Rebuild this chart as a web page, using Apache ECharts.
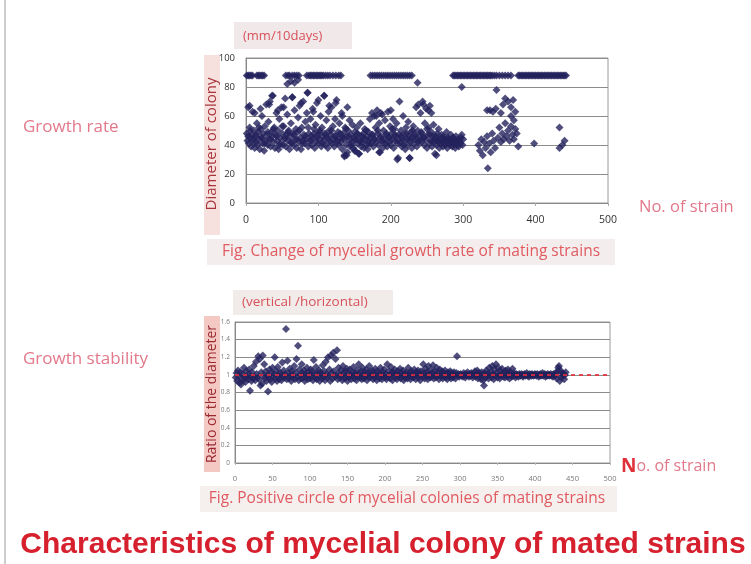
<!DOCTYPE html>
<html>
<head>
<meta charset="utf-8">
<script src="https://cdn.jsdelivr.net/npm/echarts@6/dist/echarts.min.js"></script>
<style>
html,body{margin:0;padding:0;background:#fff;}
#chart{width:751px;height:564px;}
</style>
</head>
<body>
<div id="chart"></div>
<script>
// ---------- DATA ----------
// Growth rate: colony diameter (mm/10days) per strain number
const growthTicksY = [0, 20, 40, 60, 80, 100];
const growthTicksX = [0, 100, 200, 300, 400, 500];
const saturatedValue = 88; // colonies reaching the plate edge
const growthSaturatedStrains = [1,3,5,7,9,15,17,19,21,23,25,
  55,58,60,64,67,70,73,
  84,87,89,91,93,95,97,99,101,103,105,107,110,113,116,120,124,128,131,
  172,175,178,181,184,187,190,193,196,199,202,205,208,211,214,217,220,223,226,229,
  286,288,290,292,294,296,298,300,302,304,306,308,310,312,314,316,318,320,322,324,326,328,330,332,334,336,338,340,343,346,350,354,358,362,366,
  376,378,380,382,384,386,388,390,392,394,396,398,400,402,404,406,408,410,412,414,416,418,420,422,424,426,428,430,432,434,436,438,440,442];
// main value for strains 1..300
const growthMain = [
  48,43,66,41,52,45,39,47,63,44, 50,38,46,42,55,40,49,44,37,51,
  45,60,41,48,36,53,43,68,47,40, 56,44,70,39,49,46,74,42,52,38,
  47,62,43,50,37,58,45,41,66,48, 40,53,44,72,39,47,61,43,50,37,
  46,55,41,73,48,40,64,44,51,38, 49,59,42,67,45,37,52,43,70,47,
  41,56,44,62,76,39,48,43,58,46, 40,65,45,51,38,54,42,69,47,41,
  49,44,60,39,52,46,43,74,48,40, 57,45,38,63,50,42,47,66,41,53,
  44,39,58,46,71,43,49,40,55,45, 42,62,37,48,44,33,52,40,46,35,
  50,43,57,39,47,42,54,38,45,49, 36,44,52,41,47,34,43,55,39,46,
  42,48,38,51,44,40,46,37,49,43, 58,45,41,62,47,39,60,44,52,42,
  64,48,40,55,35,46,43,61,38,50, 44,57,41,47,39,63,45,42,53,40,
  48,44,58,38,51,43,46,55,41,31, 47,70,42,50,39,45,60,43,48,37,
  52,44,40,56,46,31,42,49,38,45, 53,41,47,44,66,39,50,68,43,46,
  62,42,48,70,45,40,55,44,65,38, 47,52,41,67,43,49,39,46,54,42,
  34,45,40,48,43,51,38,44,41,47, 42,39,46,44,40,43,49,38,45,41,
  44,40,47,42,39,45,41,43,38,46, 42,40,44,39,43,41,45,47,40,44
];
// additional points [strain, value]
const growthExtra = [
  [3,46],[6,50],[10,42],[14,47],[18,52],[22,45],[26,41],[30,49],[34,44],[38,51],[42,46],[46,40],[50,53],[54,45],[58,49],
  [62,42],[66,47],[70,44],[74,50],[78,41],[82,46],[86,52],[90,43],[94,48],[98,45],[102,50],[106,41],[110,47],[114,44],
  [118,50],[122,46],[126,42],[130,48],[134,45],[138,51],[142,46],[146,40],[150,44],[154,48],[158,42],[162,45],[166,50],
  [170,41],[174,47],[178,44],[182,50],[186,45],[190,42],[194,48],[198,45],[202,51],[206,47],[210,43],[214,46],[218,40],
  [222,48],[226,44],[230,50],[234,46],[238,42],[242,49],[246,45],[250,51],[254,47],[258,43],[262,46],[266,42],[270,45],
  [274,41],[278,44],[282,42],[286,45],
  [5,67],[12,62],[20,65],[32,68],[36,74],[44,64],[52,66],[64,73],[76,69],[85,76],[93,63],[100,71],[108,74],[115,67],
  [124,69],[133,60],[140,66],[200,64],[186,62],[180,60],[245,68],[252,64],[256,62],
  [136,32],[139,33],[184,35],[209,30],[226,31],[263,33],[150,36],[156,34],
  [57,82],[62,84],[67,83],[72,85],[237,83],[298,80],[346,78],
  [321,40],[323,36],[325,44],[327,33],[329,42],[331,38],[333,46],[334,24],[336,41],[338,35],[340,48],[342,43],[344,38],
  [333,64],[337,64],[341,63],[345,65],[348,45],[350,52],[352,42],[354,48],[356,44],[358,55],[360,46],[362,50],[364,43],
  [366,53],[368,47],[370,44],[372,51],[374,48],[352,62],[355,68],[358,72],[362,70],[366,66],[369,71],[372,63],[376,39],
  [366,60],[370,57],[398,41],[433,52],[433,38],[437,40],[440,43]
];

// Growth stability: ratio of diameter (vertical/horizontal), strains 1..441
const ratioTicksY = [0, 0.2, 0.4, 0.6, 0.8, 1, 1.2, 1.4, 1.6];
const ratioTicksX = [0, 50, 100, 150, 200, 250, 300, 350, 400, 450, 500];
const ratioReference = 1;
const ratioValues = [
  0.97,1.02,0.93,1.05,0.99,0.91,1.03,0.89,0.96,1.01,0.94,1.08,0.98,0.92,1.04,0.97,1.00,0.95,1.06,0.82,
  0.99,0.93,1.03,0.96,1.10,0.98,0.94,1.15,1.01,0.97,1.21,0.95,1.18,0.88,1.03,0.90,1.22,0.99,1.12,0.96,
  1.04,0.93,1.00,0.81,0.97,1.06,0.95,1.02,0.92,1.08,0.98,1.01,1.20,0.96,1.04,0.93,1.09,0.99,0.95,1.03,
  1.00,0.94,1.14,0.98,1.05,0.97,1.01,1.52,0.95,1.16,1.02,0.96,1.07,0.99,0.93,1.04,1.00,0.97,1.10,0.95,
  1.03,1.18,0.98,1.33,0.94,1.06,1.00,0.96,1.12,1.02,0.97,1.05,0.93,1.01,0.98,1.08,0.95,1.03,1.00,0.96,
  1.06,0.99,1.04,0.94,1.17,1.01,0.97,1.09,0.95,1.02,0.99,1.05,0.93,1.03,1.00,0.96,1.11,0.98,1.04,0.94,
  1.15,1.01,0.97,1.20,0.99,1.06,0.93,1.22,1.02,0.96,1.25,1.04,0.98,1.18,1.00,1.28,0.95,1.08,1.01,0.97,
  1.05,0.99,0.94,1.10,1.02,0.96,1.04,0.98,1.07,0.93,1.01,0.97,1.06,1.00,0.95,1.03,0.99,1.09,0.96,1.02,
  1.00,0.94,1.05,0.98,1.12,1.01,0.97,1.04,0.95,1.08,1.00,0.96,1.03,0.99,1.06,0.94,1.02,0.98,1.10,0.97,
  1.03,0.99,1.05,0.95,1.01,0.97,1.07,1.00,0.94,1.04,0.98,1.02,0.96,1.08,1.00,0.95,1.03,0.99,1.06,0.97,
  1.01,0.95,1.12,0.98,1.04,1.00,0.96,1.09,1.02,0.94,1.03,0.99,1.06,0.97,1.01,0.95,1.04,1.00,0.98,1.07,
  0.96,1.02,0.99,1.05,0.94,1.01,0.97,1.03,1.00,0.96,1.08,0.99,1.02,0.95,1.04,0.98,1.01,0.97,1.06,1.00,
  0.95,1.03,0.99,1.05,0.97,1.01,0.94,1.04,1.00,0.98,1.12,1.02,0.96,1.07,0.99,1.03,0.95,1.10,1.01,0.97,
  1.05,0.98,1.02,1.11,0.96,1.04,1.00,0.97,1.08,0.99,1.03,0.95,1.06,1.00,0.98,1.04,0.96,1.02,0.99,1.05,
  0.97,1.01,0.95,1.03,1.00,0.98,1.04,0.96,1.02,0.99,0.97,1.03,1.00,0.96,1.02,1.21,0.99,1.01,0.98,1.00,
  1.01,0.99,1.00,0.98,1.02,1.00,0.97,1.01,0.99,1.03,1.00,0.98,1.01,0.99,1.02,1.00,0.97,1.01,0.99,1.04,
  0.98,1.00,1.05,0.96,1.02,0.99,1.01,0.95,1.03,1.00,0.94,0.88,1.02,0.97,1.05,0.99,1.01,0.96,1.08,1.00,
  1.03,0.97,1.10,1.01,0.95,1.06,0.99,1.12,1.02,0.97,1.08,1.00,0.96,1.04,0.99,1.07,1.01,0.98,1.03,0.97,
  1.05,1.00,0.98,1.06,1.01,0.96,1.03,1.00,0.98,1.07,0.99,1.02,1.00,0.97,1.01,0.99,1.00,0.98,1.01,1.00,
  0.99,1.01,1.00,0.98,1.00,1.01,0.99,1.00,1.02,0.99,1.00,0.98,1.01,1.00,0.99,1.01,1.00,0.99,1.00,1.01,
  1.00,0.99,1.01,1.00,0.98,1.00,1.01,0.99,1.00,1.02,0.99,1.00,1.01,0.98,1.00,0.99,1.01,1.00,0.99,1.00,
  1.01,0.99,1.00,0.98,1.01,1.00,0.99,1.02,0.96,1.04,1.08,1.10,0.93,1.05,0.97,1.02,0.99,1.01,0.95,1.00,1.03
];

// ---------- BUILD ----------
const growthData = []
  .concat(growthSaturatedStrains.map(s => [s, saturatedValue]))
  .concat(growthMain.map((v, i) => [i + 1, v]))
  .concat(growthExtra);
const ratioData = ratioValues.map((v, i) => [i + 1, v]);

const markColor = '#23225c';
const gridColor = '#8c8c8c';
const pink = '#e2788a';
const font = '"Open Sans", "Noto Sans", sans-serif';

const chart = echarts.init(document.getElementById('chart'), null, {renderer: 'canvas'});

chart.setOption({
  animation: false,
  backgroundColor: '#ffffff',
  grid: [
    {left: 246, top: 58, width: 362, height: 145, show: true, borderColor: '#9a9a9a', borderWidth: 1, backgroundColor: '#fff'},
    {left: 235, top: 322, width: 375, height: 141, show: true, borderColor: '#9a9a9a', borderWidth: 1, backgroundColor: '#fff'}
  ],
  xAxis: [
    {gridIndex: 0, type: 'value', min: growthTicksX[0], max: growthTicksX[growthTicksX.length - 1], interval: 100,
     axisLine: {show: true, lineStyle: {color: '#888'}}, axisTick: {show: true, length: 3, lineStyle: {color: '#aaa'}},
     splitLine: {show: false},
     axisLabel: {fontSize: 10.5, color: '#333', margin: 12, fontFamily: font}},
    {gridIndex: 1, type: 'value', min: ratioTicksX[0], max: ratioTicksX[ratioTicksX.length - 1], interval: 50,
     axisLine: {show: true, lineStyle: {color: '#888'}}, axisTick: {show: true, length: 2, lineStyle: {color: '#bbb'}},
     splitLine: {show: false},
     axisLabel: {fontSize: 7.5, color: '#777', margin: 12, fontFamily: font}}
  ],
  yAxis: [
    {gridIndex: 0, type: 'value', min: growthTicksY[0], max: growthTicksY[growthTicksY.length - 1], interval: 20,
     axisLine: {show: true, lineStyle: {color: '#888'}}, axisTick: {show: false},
     splitLine: {show: true, lineStyle: {color: gridColor, width: 1}},
     axisLabel: {fontSize: 9.5, color: '#333', margin: 11, fontFamily: font}},
    {gridIndex: 1, type: 'value', min: ratioTicksY[0], max: ratioTicksY[ratioTicksY.length - 1], interval: 0.2,
     axisLine: {show: true, lineStyle: {color: '#888'}}, axisTick: {show: false},
     splitLine: {show: true, lineStyle: {color: gridColor, width: 1}},
     axisLabel: {fontSize: 6.5, color: '#777', margin: 5, fontFamily: font}}
  ],
  series: [
    {type: 'scatter', xAxisIndex: 0, yAxisIndex: 0, data: growthData, symbol: 'diamond', symbolSize: 8,
     itemStyle: {color: markColor}},
    {type: 'scatter', xAxisIndex: 1, yAxisIndex: 1, data: ratioData, symbol: 'diamond', symbolSize: 8,
     itemStyle: {color: markColor},
     markLine: {silent: true, symbol: 'none', label: {show: false},
       lineStyle: {color: '#e0303a', type: [4, 4], width: 2, opacity: 0.85},
       data: [{yAxis: ratioReference}]}}
  ],
  graphic: [
    {type: 'line', shape: {x1: 5, y1: 0, x2: 5, y2: 564}, style: {stroke: '#bdbdbd', lineWidth: 1.5}},
    // left labels
    {type: 'text', left: 23, top: 119, style: {text: 'Growth rate', fill: pink, font: '17px ' + font}},
    {type: 'text', left: 23, top: 351, style: {text: 'Growth stability', fill: pink, font: '17px ' + font}},
    // unit boxes
    {type: 'rect', shape: {x: 234, y: 22, width: 118, height: 27}, style: {fill: '#f1e9e9'}},
    {type: 'text', x: 243, y: 36, style: {text: '(mm/10days)', fill: '#d8505a', font: '13px ' + font, textAlign: 'left', textVerticalAlign: 'middle'}},
    {type: 'rect', shape: {x: 233, y: 290, width: 160, height: 25}, style: {fill: '#f1ecea'}},
    {type: 'text', x: 242, y: 302, style: {text: '(vertical /horizontal)', fill: '#d8505a', font: '13.5px ' + font, textAlign: 'left', textVerticalAlign: 'middle'}},
    // y axis name boxes
    {type: 'rect', shape: {x: 204, y: 55, width: 16, height: 180}, style: {fill: '#f7e1df'}},
    {type: 'text', x: 212, y: 144, rotation: Math.PI / 2, style: {text: 'Diameter of colony', fill: '#a8333a', font: '15px ' + font, textAlign: 'center', textVerticalAlign: 'middle'}},
    {type: 'rect', shape: {x: 204, y: 316, width: 16, height: 156}, style: {fill: '#f4c9c4'}},
    {type: 'text', x: 212, y: 394, rotation: Math.PI / 2, style: {text: 'Ratio of the diameter', fill: '#9a2a30', font: '14px ' + font, textAlign: 'center', textVerticalAlign: 'middle'}},
    // x axis names
    {type: 'text', left: 639, top: 199, style: {text: 'No. of strain', fill: pink, font: '16.5px ' + font}},
    {type: 'text', left: 621, top: 457, style: {rich: {n: {fill: '#e0303a', font: 'bold 19px ' + font}, r: {fill: pink, font: '16px ' + font}}, text: '{n|N}{r|o. of strain}'}},
    // captions
    {type: 'rect', shape: {x: 207, y: 239, width: 408, height: 26}, style: {fill: '#f3eeed'}},
    {type: 'text', x: 411, y: 252, style: {text: 'Fig. Change of mycelial growth rate of mating strains', fill: '#e05a60', font: '15.5px ' + font, textAlign: 'center', textVerticalAlign: 'middle'}},
    {type: 'rect', shape: {x: 200, y: 486, width: 417, height: 26}, style: {fill: '#f5efee'}},
    {type: 'text', x: 407, y: 499, style: {text: 'Fig. Positive circle of mycelial colonies of mating strains', fill: '#e05a60', font: '15.5px ' + font, textAlign: 'center', textVerticalAlign: 'middle'}},
    // title
    {type: 'text', x: 383, y: 545, style: {text: 'Characteristics of mycelial colony of mated strains', fill: '#d6202e', font: 'bold 30px "Liberation Sans", Arial, sans-serif', textAlign: 'center', textVerticalAlign: 'middle'}}
  ]
});
</script>
</body>
</html>
